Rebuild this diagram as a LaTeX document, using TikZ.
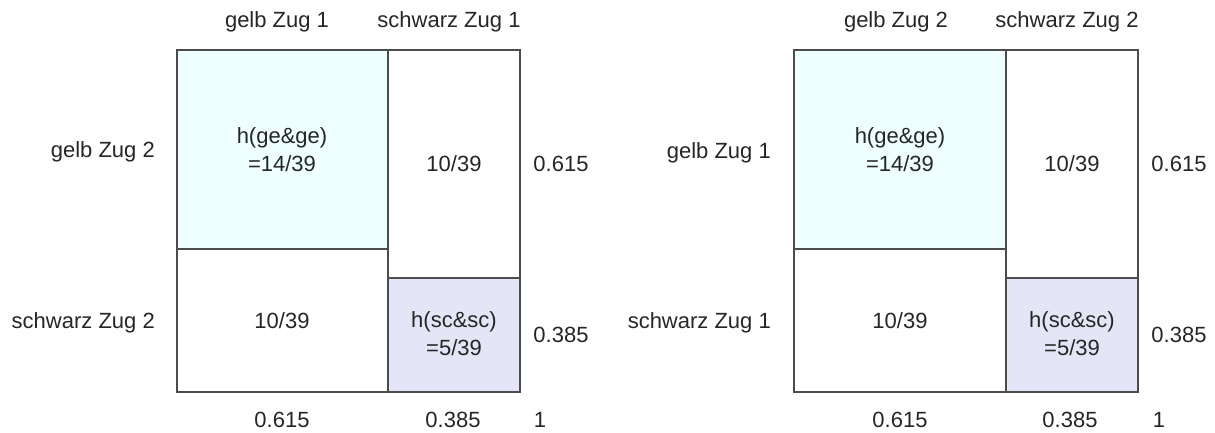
\documentclass[tikz,border=0pt]{standalone}
\usepackage{fontspec}
\setmainfont{Liberation Sans}
\begin{document}
\begin{tikzpicture}[x=1pt,y=-1pt,
  lbl/.style={inner sep=0pt,anchor=base,font=\fontsize{22}{28}\selectfont,text=black!85,align=center},
  lble/.style={lbl,anchor=base east},
  cellline/.style={draw=black!70,line width=1.3pt},
]
\definecolor{cyanfill}{RGB}{239,255,255}
\definecolor{lavfill}{RGB}{229,229,248}
\useasboundingbox (0,0) rectangle (1215,432);
\fill[white] (0,0) rectangle (1215,432);
% ---------- left chart ----------
\fill[cyanfill] (177,50) rectangle (388,249);
\fill[lavfill] (388,278) rectangle (520,392);
\draw[cellline] (177,50) rectangle (520,392);
\draw[cellline] (388,50) -- (388,392);
\draw[cellline] (177,249) -- (388,249);
\draw[cellline] (388,278) -- (520,278);
\node[lbl] (lh1) at (277,27) {gelb Zug 1};
\node[lbl] (lh2) at (449,27) {schwarz Zug 1};
\node[lble] (lr1) at (155,157) {gelb Zug 2};
\node[lble] (lr2) at (155,328) {schwarz Zug 2};
\node[lbl] (lc1) at (282,171) {h(ge\&ge)\\=14/39};
\node[lbl] (lc2) at (454,171) {10/39};
\node[lbl] (lc3) at (282,328) {10/39};
\node[lbl] (lc4) at (454,355) {h(sc\&sc)\\=5/39};
\node[lbl] (ln1) at (561,171) {0.615};
\node[lbl] (ln2) at (561,342) {0.385};
\node[lbl] (lb1) at (282,427) {0.615};
\node[lbl] (lb2) at (453,427) {0.385};
\node[lbl] (lb3) at (540,427) {1};
% ---------- right chart ----------
\fill[cyanfill] (794,50) rectangle (1006,249);
\fill[lavfill] (1006,278) rectangle (1138,392);
\draw[cellline] (794,50) rectangle (1138,392);
\draw[cellline] (1006,50) -- (1006,392);
\draw[cellline] (794,249) -- (1006,249);
\draw[cellline] (1006,278) -- (1138,278);
\node[lbl] (rh1) at (896,27) {gelb Zug 2};
\node[lbl] (rh2) at (1067,27) {schwarz Zug 2};
\node[lble] (rr1) at (771,158) {gelb Zug 1};
\node[lble] (rr2) at (771,328) {schwarz Zug 1};
\node[lbl] (rc1) at (900,171) {h(ge\&ge)\\=14/39};
\node[lbl] (rc2) at (1072,171) {10/39};
\node[lbl] (rc3) at (900,328) {10/39};
\node[lbl] (rc4) at (1072,355) {h(sc\&sc)\\=5/39};
\node[lbl] (rn1) at (1179,171) {0.615};
\node[lbl] (rn2) at (1179,342) {0.385};
\node[lbl] (rb1) at (900,427) {0.615};
\node[lbl] (rb2) at (1070,427) {0.385};
\node[lbl] (rb3) at (1159,427) {1};
\end{tikzpicture}
\end{document}
